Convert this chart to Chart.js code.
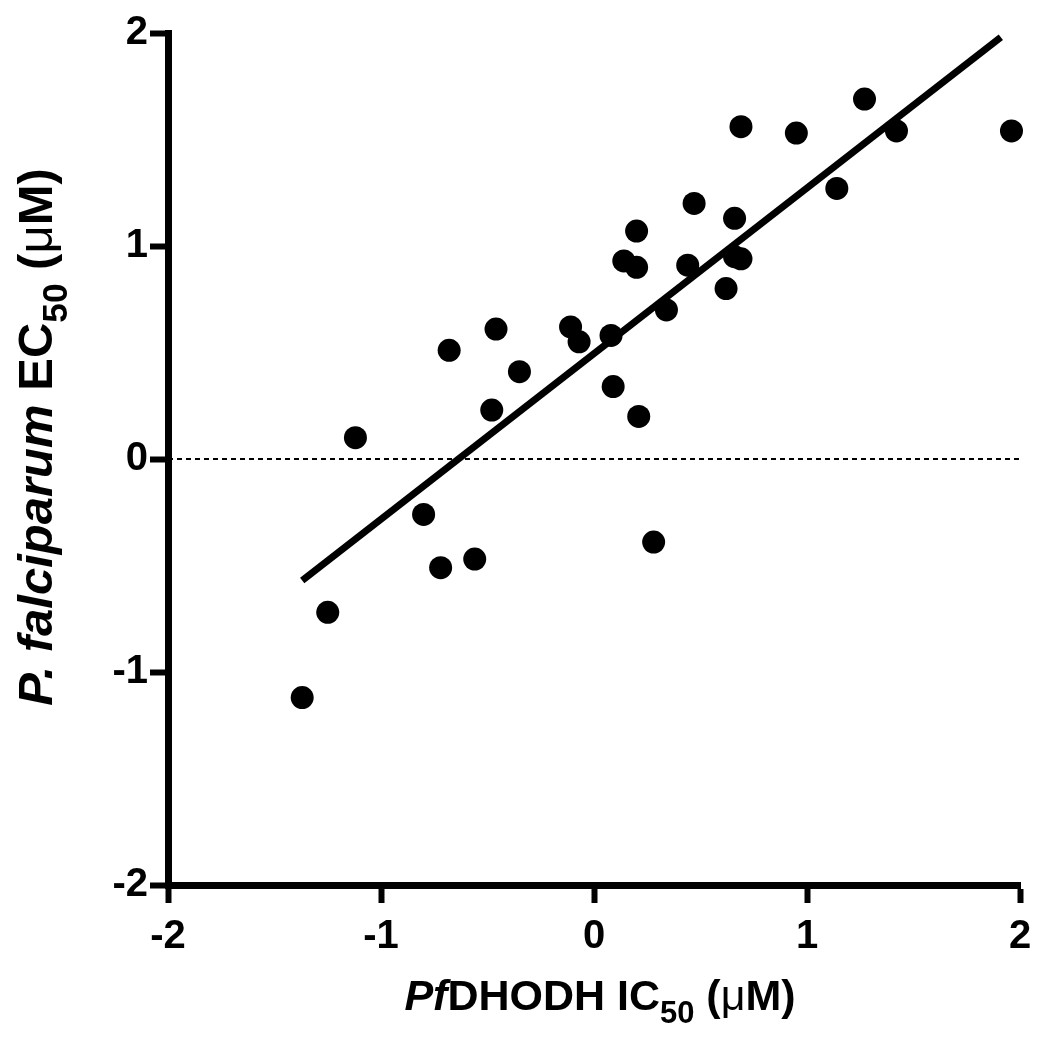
<!DOCTYPE html>
<html>
<head>
<meta charset="utf-8">
<script src="https://cdn.jsdelivr.net/npm/chart.js@4"></script>
<style>
  body { margin: 0; background: #fff; }
  #wrap { width: 1050px; height: 1040px; }
</style>
</head>
<body>
<div id="wrap"><canvas id="myChart" width="1050" height="1040"></canvas></div>
<script>
'use strict';

// PfDHODH IC50 (log µM) vs P. falciparum EC50 (log µM)
let ic50 = [-1.37, -1.25, -1.12, -0.80, -0.72, -0.68, -0.56, -0.48, -0.46, -0.35,
  -0.11, -0.07, 0.08, 0.09, 0.14, 0.20, 0.20, 0.21, 0.28, 0.34,
  0.44, 0.47, 0.62, 0.66, 0.66, 0.69, 0.69, 0.95, 1.14, 1.27, 1.42, 1.96];
let ec50 = [-1.12, -0.72, 0.10, -0.26, -0.51, 0.51, -0.47, 0.23, 0.61, 0.41,
  0.62, 0.55, 0.58, 0.34, 0.93, 1.07, 0.90, 0.20, -0.39, 0.70,
  0.91, 1.20, 0.80, 1.13, 0.95, 1.56, 0.94, 1.53, 1.27, 1.69, 1.54, 1.54];

// regression line end points
let fitX = [-1.37, 1.91];
let fitY = [-0.57, 1.98];

let tickValues = [-2, -1, 0, 1, 2];

let points = [];
for (let i = 0; i < ic50.length; i++) {
  points.push({ x: ic50[i], y: ec50[i] });
}
let fitLine = [];
for (let i = 0; i < fitX.length; i++) {
  fitLine.push({ x: fitX[i], y: fitY[i] });
}
let zeroLine = [{ x: tickValues[0], y: 0 }, { x: tickValues[tickValues.length - 1], y: 0 }];

const FONT = '"Liberation Sans", Arial, sans-serif';

// draws a label made of pieces with their own style
function drawRich(ctx, parts, size) {
  let total = 0;
  for (let p of parts) {
    let s = p.sub ? size * 0.72 : size;
    ctx.font = (p.italic ? 'italic ' : '') + (p.light ? '' : 'bold ') + s + 'px ' + FONT;
    p.w = ctx.measureText(p.t).width;
    total += p.w;
  }
  let x = -total / 2;
  for (let p of parts) {
    let s = p.sub ? size * 0.72 : size;
    ctx.font = (p.italic ? 'italic ' : '') + (p.light ? '' : 'bold ') + s + 'px ' + FONT;
    ctx.fillText(p.t, x, p.sub ? size * 0.3 : 0);
    x += p.w;
  }
}

const titlePlugin = {
  id: 'axisTitles',
  afterDraw(chart) {
    let ctx = chart.ctx;
    ctx.save();
    ctx.fillStyle = '#000';
    ctx.textBaseline = 'alphabetic';
    ctx.textAlign = 'left';

    ctx.save();
    ctx.translate(600, 1010);
    drawRich(ctx, [
      { t: 'Pf', italic: true },
      { t: 'DHODH IC' },
      { t: '50', sub: true },
      { t: ' (' },
      { t: 'μ', light: true },
      { t: 'M)' }
    ], 43);
    ctx.restore();

    ctx.save();
    ctx.translate(52, 437);
    ctx.rotate(-Math.PI / 2);
    drawRich(ctx, [
      { t: 'P. falciparum', italic: true },
      { t: ' EC' },
      { t: '50', sub: true },
      { t: ' (' },
      { t: 'μ', light: true },
      { t: 'M)' }
    ], 49);
    ctx.restore();

    ctx.restore();
  }
};

const axisStyle = {
  type: 'linear',
  min: -2,
  max: 2,
  afterBuildTicks: function (axis) {
    axis.ticks = tickValues.map(v => ({ value: v }));
  },
  ticks: {
    color: '#000',
    font: { family: FONT, size: 40, weight: 'bold' },
    callback: v => String(v),
    padding: 2
  },
  grid: {
    drawOnChartArea: false,
    drawTicks: true,
    tickLength: 18,
    tickWidth: 6,
    tickColor: '#000'
  },
  border: { display: true, width: 7, color: '#000' }
};

const config = {
  type: 'scatter',
  data: {
    datasets: [
      {
        label: 'zero',
        data: zeroLine,
        type: 'line',
        borderColor: '#000',
        borderWidth: 2,
        borderDash: [5, 4],
        pointRadius: 0,
        fill: false,
        clip: false
      },
      {
        label: 'fit',
        data: fitLine,
        type: 'line',
        borderColor: '#000',
        borderWidth: 7,
        borderCapStyle: 'butt',
        pointRadius: 0,
        fill: false,
        clip: false
      },
      {
        label: 'compounds',
        data: points,
        backgroundColor: '#000',
        borderWidth: 0,
        pointRadius: 11.5,
        pointHoverRadius: 11.5,
        clip: false
      }
    ]
  },
  options: {
    responsive: false,
    animation: false,
    layout: { padding: { top: 33, right: 30, left: 0, bottom: 0 } },
    plugins: {
      legend: { display: false },
      tooltip: { enabled: false }
    },
    scales: {
      x: Object.assign({}, axisStyle, {
        ticks: Object.assign({}, axisStyle.ticks, { padding: 10 }),
        afterFit: function (scale) { scale.height = 155; }
      }),
      y: Object.assign({}, axisStyle, {
        afterFit: function (scale) { scale.width = 168; }
      })
    }
  },
  plugins: [titlePlugin]
};

const myChart = new Chart(document.getElementById('myChart'), config);
</script>
</body>
</html>
